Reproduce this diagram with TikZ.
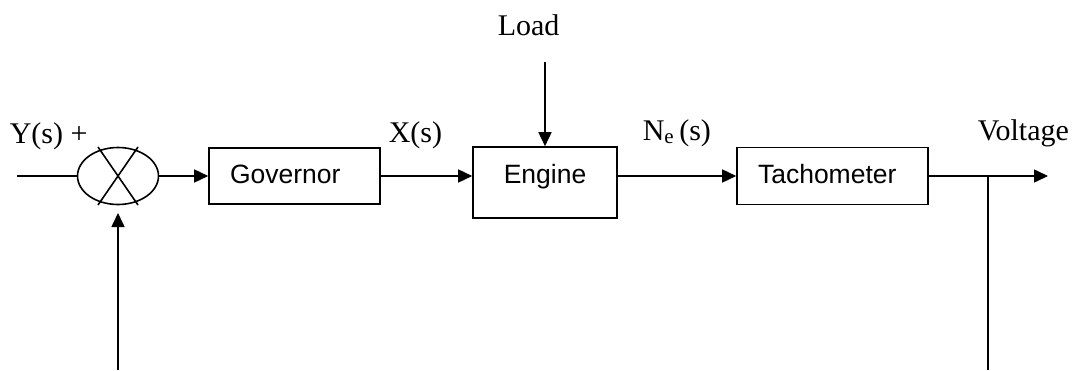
\documentclass[tikz,border=0pt]{standalone}
\usepackage{fontspec}
\setmainfont{Liberation Serif}
\newfontfamily\boxfont{Liberation Sans}
\usetikzlibrary{arrows.meta,shapes.geometric}
\begin{document}
\begin{tikzpicture}[x=1pt,y=-1pt,
  line width=1.6pt,
  arr/.style={-{Triangle[length=14pt,width=13pt]}},
  blockbox/.style={draw,rectangle,inner ysep=0pt,font=\boxfont\fontsize{26.5}{31}\selectfont},
  lbl/.style={inner sep=0pt,anchor=base west,font=\fontsize{30}{35}\selectfont},
  sumnode/.style={draw,ellipse,minimum width=81pt,minimum height=57pt,inner sep=0pt}]
\useasboundingbox (0,0) rectangle (1078,370);
% summing junction
\node[sumnode] (sum) at (118,176) {};
\draw (98,147) -- (138,205) (138,147) -- (98,205);
% blocks
\node[blockbox,minimum width=171pt,minimum height=56pt,text width=129pt,inner xsep=21pt,align=left,
      text height=19pt,text depth=5pt] (gov) at (294.5,176) {Governor};
\node[blockbox,minimum width=144pt,minimum height=71pt,align=center,
      text height=19pt,text depth=18pt] (eng) at (545,182.5) {Engine};
\node[blockbox,minimum width=191pt,minimum height=57pt,text width=149pt,inner xsep=21pt,align=left,
      text height=19pt,text depth=5pt] (tach) at (832.5,176) {Tachometer};
% labels
\node[lbl] (ylab) at (9,143) {Y(s) +};
\node[lbl] (xlab) at (388,142) {X(s)};
\node[lbl] (nlab) at (642,140) {N\textsubscript{e}\,(s)};
\node[lbl] (vlab) at (977,140) {Voltage};
\node[lbl] (llab) at (497,35) {Load};
% free ends
\coordinate (in) at (17,176);
\coordinate (loadtop) at (545,62);
\coordinate (out) at (1048,176);
\coordinate (br) at (988,176);
\coordinate (brbot) at (988,370);
\coordinate (fbbot) at (118,370);
\coordinate (fbtip) at (118,213);
% connectors
\draw (in) -- (sum.west);
\draw[arr] (sum.east) -- (gov.west);
\draw[arr] (gov.east) -- (gov.east -| eng.west);
\draw[arr] (loadtop) -- (eng.north);
\draw[arr] (tach.west -| eng.east) -- (tach.west);
\draw[arr] (tach.east) -- (out);
\draw (br) -- (brbot);
\draw[arr] (fbbot) -- (fbtip);
\end{tikzpicture}
\end{document}
